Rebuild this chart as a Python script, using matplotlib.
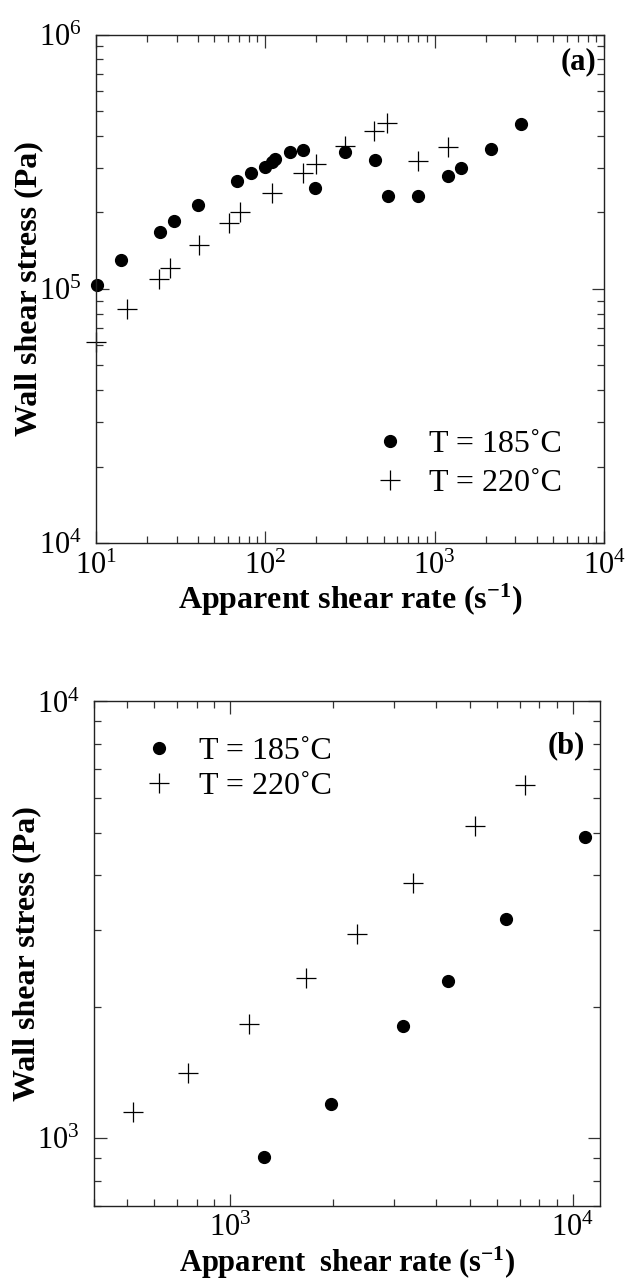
import matplotlib
matplotlib.use('Agg')
import matplotlib.pyplot as plt
from matplotlib.ticker import LogLocator, NullFormatter

plt.rcParams['font.family'] = ['Liberation Serif', 'DejaVu Serif']
plt.rcParams['mathtext.fontset'] = 'custom'
plt.rcParams['mathtext.rm'] = 'Liberation Serif'
plt.rcParams['mathtext.it'] = 'Liberation Serif:italic'
plt.rcParams['mathtext.bf'] = 'Liberation Serif:bold'

# ---- panel (a) data ----
a_x_185 = [10.1, 14.0, 23.9, 28.8, 39.9, 68.2, 82.0, 99.8, 110, 115, 140, 166,
           198, 295, 443, 530, 796, 1202, 1430, 2161, 3230]
a_y_185 = [1.04e5, 1.30e5, 1.68e5, 1.85e5, 2.13e5, 2.66e5, 2.86e5, 3.03e5, 3.15e5,
           3.25e5, 3.47e5, 3.51e5, 2.50e5, 3.46e5, 3.21e5, 2.33e5, 2.32e5, 2.79e5,
           2.98e5, 3.54e5, 4.44e5]
a_x_220 = [10.0, 15.3, 23.6, 27.6, 40.7, 61.2, 71.3, 110, 167, 200, 295, 438, 525,
           796, 1197]
a_y_220 = [6.2e4, 8.35e4, 1.09e5, 1.21e5, 1.49e5, 1.82e5, 2.0e5, 2.39e5, 2.86e5,
           3.09e5, 3.64e5, 4.18e5, 4.49e5, 3.20e5, 3.62e5]

# ---- panel (b) data ----
b_x_185 = [1257, 1972, 3206, 4313, 6380, 10840]
b_y_185 = [908, 1200, 1810, 2290, 3180, 4890]
b_x_220 = [521, 754, 1138, 1668, 2345, 3410, 5190, 7260]
b_y_220 = [1148, 1410, 1830, 2330, 2940, 3840, 5180, 6430]

labels = ['T = 185˚C', 'T = 220˚C']

fig = plt.figure(figsize=(6.26, 12.87), dpi=100)
ax1 = fig.add_axes([0.153, 0.578, 0.812, 0.395])
ax2 = fig.add_axes([0.150, 0.063, 0.808, 0.392])


def style(ax):
    ax.set_xscale('log')
    ax.set_yscale('log')
    for s in ax.spines.values():
        s.set_linewidth(1.0)
        s.set_color('#222222')
    ax.tick_params(which='both', direction='in', top=True, right=True, width=0.9,
                   color='#333333')
    ax.tick_params(which='major', length=9, labelsize=22)
    ax.tick_params(axis='x', which='major', pad=6)
    ax.tick_params(axis='y', which='major', pad=10)
    ax.tick_params(which='minor', length=5)
    ax.xaxis.set_minor_locator(LogLocator(base=10, subs=range(2, 10)))
    ax.yaxis.set_minor_locator(LogLocator(base=10, subs=range(2, 10)))
    ax.xaxis.set_minor_formatter(NullFormatter())
    ax.yaxis.set_minor_formatter(NullFormatter())


# panel (a)
style(ax1)
ax1.plot(a_x_185, a_y_185, 'o', color='black', ms=8.5, label=labels[0], clip_on=False)
ax1.plot(a_x_220, a_y_220, '+', color='black', ms=15, mew=0.9, label=labels[1], clip_on=False)
ax1.set_xlim(10, 1e4)
ax1.set_ylim(1e4, 1e6)
ax1.set_xlabel('Apparent shear rate (s$^{\\mathbf{-1}}$)', fontsize=23, fontweight='bold', labelpad=1)
ax1.set_ylabel('Wall shear stress (Pa)', fontsize=23, fontweight='bold', labelpad=-3)
ax1.text(0.985, 0.975, '(a)', transform=ax1.transAxes, ha='right', va='top',
         fontsize=22, fontweight='bold')
ax1.legend(loc='upper left', bbox_to_anchor=(0.515, 0.255), frameon=False, fontsize=23,
           handlelength=1.0, handletextpad=0.75, labelspacing=0.3, borderpad=0)

# panel (b)
style(ax2)
ax2.plot(b_x_185, b_y_185, 'o', color='black', ms=8.5, label=labels[0], clip_on=False)
ax2.plot(b_x_220, b_y_220, '+', color='black', ms=15, mew=0.9, label=labels[1], clip_on=False)
ax2.set_xlim(400, 12000)
ax2.set_ylim(700, 1e4)
ax2.set_xlabel('Apparent  shear rate (s$^{\\mathbf{-1}}$)', fontsize=22, fontweight='bold', labelpad=1)
ax2.set_ylabel('Wall shear stress (Pa)', fontsize=23, fontweight='bold', labelpad=-3)
ax2.text(0.97, 0.94, '(b)', transform=ax2.transAxes, ha='right', va='top',
         fontsize=22, fontweight='bold')
ax2.legend(loc='upper left', bbox_to_anchor=(0.065, 0.962), frameon=False, fontsize=23,
           handlelength=1.0, handletextpad=0.75, labelspacing=0.18, borderpad=0)

fig.savefig('out.png', dpi=100)
